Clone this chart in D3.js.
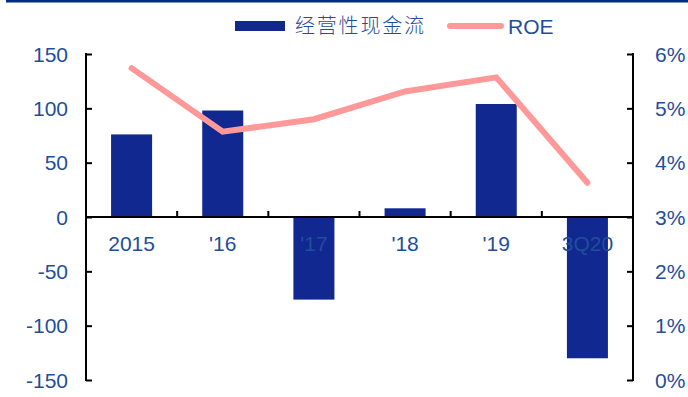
<!DOCTYPE html>
<html>
<head>
<meta charset="utf-8">
<script src="https://cdn.jsdelivr.net/npm/d3@7"></script>
<style>
  html, body { margin: 0; padding: 0; background: #fff; }
  svg { display: block; }
  text { font-family: Arial, "Liberation Sans", sans-serif; }
</style>
</head>
<body>
<svg id="chart" width="688" height="397"></svg>
<script>
// Operating cash flow (left axis) and ROE (right axis)
const categories = ["2015", "'16", "'17", "'18", "'19", "3Q20"];
const cashFlow = [76, 98, -76, 8, 104, -130];
const roe = [5.74, 4.57, 4.80, 5.31, 5.57, 3.63];
const leftTicks = [150, 100, 50, 0, -50, -100, -150];
const rightTicks = [0, 1, 2, 3, 4, 5, 6];
const seriesNames = ["经营性现金流", "ROE"];

const barColor = "#10288f";
const lineColor = "#ff9999";
const textColor = "#1f4e9b";

const svg = d3.select("#chart");
const plotLeft = 86, plotRight = 633, plotTop = 54, plotBottom = 380;

// header rule
svg.append("rect").attr("x", 6).attr("y", 0).attr("width", 682).attr("height", 2.5).attr("fill", "#002b82");

const x = d3.scaleBand().domain(categories).range([plotLeft, plotRight]).paddingInner(0.55).paddingOuter(0.275);
const xCells = d3.scaleBand().domain(categories).range([plotLeft, plotRight]);
const y = d3.scaleLinear().domain([-150, 150]).range([plotBottom, plotTop]);
const y2 = d3.scaleLinear().domain([0, 6]).range([plotBottom, plotTop]);

// bars
svg.append("g").selectAll("rect").data(cashFlow).join("rect")
  .attr("x", (d, i) => x(categories[i]))
  .attr("width", x.bandwidth())
  .attr("y", d => y(Math.max(0, d)))
  .attr("height", d => Math.abs(y(d) - y(0)))
  .attr("fill", barColor);

// left axis
const leftAxis = svg.append("g").attr("transform", `translate(${plotLeft},0)`)
  .call(d3.axisRight(y).tickValues(leftTicks).tickSize(6).tickFormat(""));
leftAxis.select(".domain").remove();
leftAxis.selectAll("line").attr("stroke", "#000").attr("stroke-width", 2);
svg.append("line").attr("x1", plotLeft).attr("x2", plotLeft).attr("y1", plotTop - 1).attr("y2", plotBottom + 1)
  .attr("stroke", "#000").attr("stroke-width", 2);
svg.append("g").selectAll("text").data(leftTicks).join("text")
  .attr("x", 68).attr("y", d => y(d)).attr("dy", "0.36em")
  .attr("text-anchor", "end").attr("font-size", 21).attr("fill", textColor)
  .text(d => d);

// right axis
const rightAxis = svg.append("g").attr("transform", `translate(${plotRight},0)`)
  .call(d3.axisLeft(y2).tickValues(rightTicks).tickSize(6).tickFormat(""));
rightAxis.select(".domain").remove();
rightAxis.selectAll("line").attr("stroke", "#000").attr("stroke-width", 2);
svg.append("line").attr("x1", plotRight).attr("x2", plotRight).attr("y1", plotTop - 1).attr("y2", plotBottom + 1)
  .attr("stroke", "#000").attr("stroke-width", 2);
svg.append("g").selectAll("text").data(rightTicks).join("text")
  .attr("x", 655).attr("y", d => y2(d)).attr("dy", "0.36em")
  .attr("text-anchor", "start").attr("font-size", 21).attr("fill", textColor)
  .text(d => d + "%");

// zero line with category separators
svg.append("line").attr("x1", plotLeft).attr("x2", plotRight).attr("y1", y(0)).attr("y2", y(0))
  .attr("stroke", "#000").attr("stroke-width", 2);
svg.append("g").selectAll("line").data(categories.slice(1)).join("line")
  .attr("x1", d => xCells(d)).attr("x2", d => xCells(d))
  .attr("y1", y(0)).attr("y2", y(0) - 6)
  .attr("stroke", "#000").attr("stroke-width", 2);

// category labels
svg.append("g").selectAll("text").data(categories).join("text")
  .attr("x", d => x(d) + x.bandwidth() / 2).attr("y", 251)
  .attr("text-anchor", "middle").attr("font-size", 21).attr("fill", textColor)
  .text(d => d);

// ROE line
const line = d3.line().x((d, i) => x(categories[i]) + x.bandwidth() / 2).y(d => y2(d));
svg.append("path").datum(roe).attr("d", line)
  .attr("fill", "none").attr("stroke", lineColor).attr("stroke-width", 6)
  .attr("stroke-linecap", "round");

// legend
const legend = svg.append("g");
legend.append("rect").attr("x", 235).attr("y", 21).attr("width", 50).attr("height", 10).attr("fill", barColor);
legend.append("text").attr("x", 295).attr("y", 26).attr("dy", "0.36em")
  .attr("font-size", 20).attr("fill", textColor)
  .style("font-family", "'Noto Sans CJK SC', sans-serif").style("font-weight", 300)
  .attr("textLength", 129)
  .text(seriesNames[0]);
legend.append("line").attr("x1", 450).attr("x2", 501).attr("y1", 26).attr("y2", 26)
  .attr("stroke", lineColor).attr("stroke-width", 6).attr("stroke-linecap", "round");
legend.append("text").attr("x", 508).attr("y", 26).attr("dy", "0.36em")
  .attr("font-size", 21).attr("fill", textColor)
  .text(seriesNames[1]);
</script>
</body>
</html>
